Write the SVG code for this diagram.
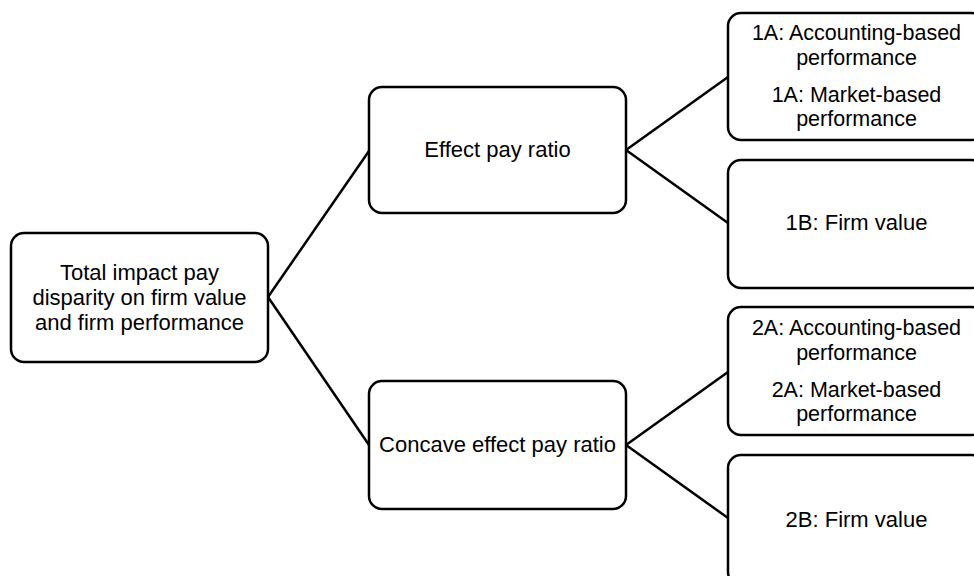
<svg xmlns="http://www.w3.org/2000/svg" width="974" height="576" viewBox="0 0 974 576">
<style>
.box{fill:#fff;stroke:#000;stroke-width:2.5}
.t{font-family:"Liberation Sans",Arial,sans-serif;font-size:22px;fill:#000;text-anchor:middle}
.s{font-size:21.5px}
.c{stroke:#000;stroke-width:2.5;fill:none}
</style>
<rect width="974" height="576" fill="#fff"/>
<g id="connectors">
<line class="c" x1="268" y1="297" x2="369" y2="151"/>
<line class="c" x1="268" y1="297" x2="369" y2="445"/>
<line class="c" x1="626" y1="150" x2="728" y2="77"/>
<line class="c" x1="626" y1="150" x2="728" y2="223"/>
<line class="c" x1="626" y1="445" x2="728" y2="372"/>
<line class="c" x1="626" y1="445" x2="728" y2="518"/>
</g>
<g id="root">
<rect class="box" x="11" y="233" width="257" height="129" rx="13"/>
<text class="t" x="139.5" y="280">Total impact pay</text>
<text class="t" x="139.5" y="305">disparity on firm value</text>
<text class="t" x="139.5" y="330">and firm performance</text>
</g>
<g id="effect">
<rect class="box" x="369" y="87" width="257" height="126" rx="13"/>
<text class="t" x="497.5" y="157">Effect pay ratio</text>
</g>
<g id="concave">
<rect class="box" x="369" y="381" width="257" height="128" rx="13"/>
<text class="t" x="497.5" y="452">Concave effect pay ratio</text>
</g>
<g id="n1A">
<rect class="box" x="728" y="13" width="257" height="127" rx="13"/>
<text class="t s" x="856.5" y="40">1A: Accounting-based</text>
<text class="t s" x="856.5" y="65">performance</text>
<text class="t s" x="856.5" y="102">1A: Market-based</text>
<text class="t s" x="856.5" y="126">performance</text>
</g>
<g id="n1B">
<rect class="box" x="728" y="160" width="257" height="128" rx="13"/>
<text class="t" x="856.5" y="230">1B: Firm value</text>
</g>
<g id="n2A">
<rect class="box" x="728" y="307" width="257" height="128" rx="13"/>
<text class="t s" x="856.5" y="335">2A: Accounting-based</text>
<text class="t s" x="856.5" y="360">performance</text>
<text class="t s" x="856.5" y="397">2A: Market-based</text>
<text class="t s" x="856.5" y="421">performance</text>
</g>
<g id="n2B">
<rect class="box" x="728" y="455" width="257" height="130" rx="13"/>
<text class="t" x="856.5" y="527">2B: Firm value</text>
</g>
</svg>
